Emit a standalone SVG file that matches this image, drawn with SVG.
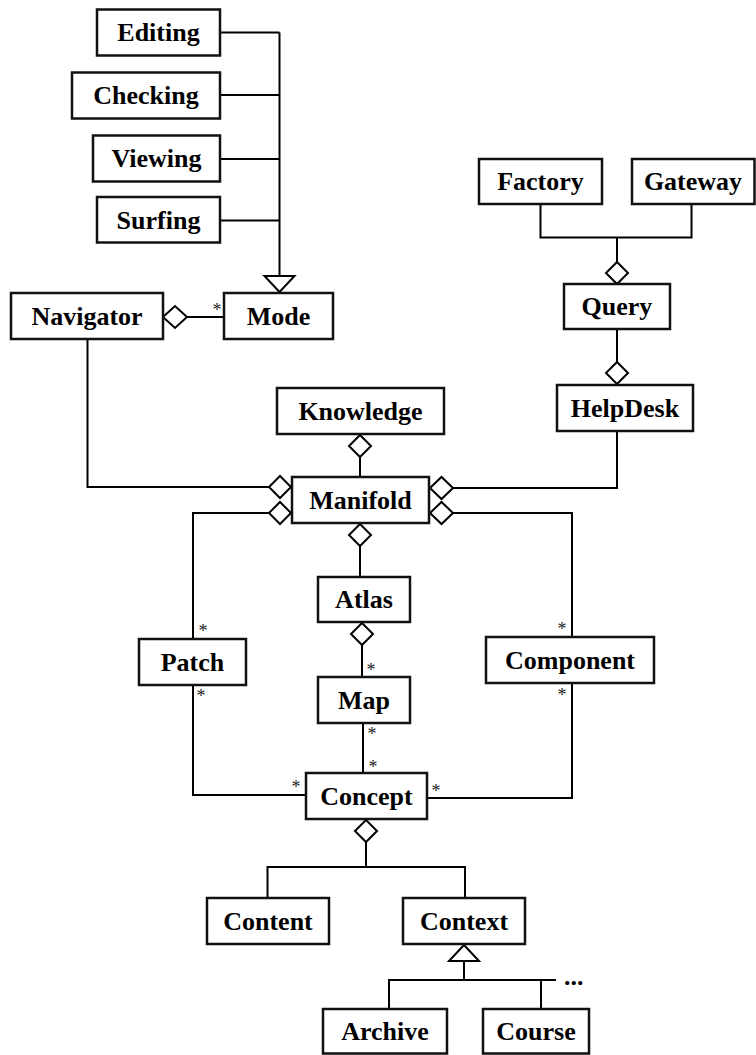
<svg xmlns="http://www.w3.org/2000/svg" width="756" height="1055" viewBox="0 0 756 1055">
  <style>
    .box { fill: #fff; stroke: #111; stroke-width: 2.5; }
    .lbl { font-family: "Liberation Serif", "Times New Roman", serif; font-weight: bold; font-size: 26px; fill: #000; text-anchor: middle; }
    .ln { fill: none; stroke: #000; stroke-width: 2; }
    .dia { fill: #fff; stroke: #000; stroke-width: 2; }
    .tri { fill: #fff; stroke: #000; stroke-width: 2; }
    .mult { font-family: "Liberation Serif", "Times New Roman", serif; font-size: 18px; fill: #222; text-anchor: middle; }
    .dots { font-family: "Liberation Serif", "Times New Roman", serif; font-weight: bold; font-size: 26px; fill: #000; }
  </style>
  <rect width="756" height="1055" fill="#fff"/>

  <!-- connectors -->
  <g id="connectors">
    <!-- modes generalise to Mode -->
    <path class="ln" d="M220 32.5H279.5 M220 95H279.5 M220 159H279.5 M220 220.5H279.5 M279.5 32.5V276"/>
    <polygon class="tri" points="264.5,276 294.5,276 279.5,292"/>
    <!-- Navigator aggregates Mode -->
    <path class="ln" d="M187 317H224"/>
    <polygon class="dia" points="163,317 175,306 187,317 175,328"/>
    <text class="mult" x="217" y="316">*</text>
    <!-- Factory / Gateway into Query -->
    <path class="ln" d="M540.5 204V237.5H691.5V204 M617 237.5V262"/>
    <polygon class="dia" points="617,262 628,273 617,284 606,273"/>
    <!-- Query into HelpDesk -->
    <path class="ln" d="M617 329V362"/>
    <polygon class="dia" points="617,362 628,373 617,384 606,373"/>
    <!-- HelpDesk to Manifold -->
    <path class="ln" d="M617 431V488H453"/>
    <polygon class="dia" points="430,488 441.5,477 453,488 441.5,499"/>
    <!-- Knowledge to Manifold -->
    <path class="ln" d="M360 457V477"/>
    <polygon class="dia" points="360,435 371,446 360,457 349,446"/>
    <!-- Navigator to Manifold -->
    <path class="ln" d="M87.5 339V487H269"/>
    <polygon class="dia" points="269,487 280,476 291,487 280,498"/>
    <!-- Manifold to Patch -->
    <path class="ln" d="M269 513H193V639"/>
    <polygon class="dia" points="269,513 280,502 291,513 280,524"/>
    <!-- Manifold to Component -->
    <path class="ln" d="M453 513H572V637"/>
    <polygon class="dia" points="430,513 441.5,502 453,513 441.5,524"/>
    <!-- Manifold to Atlas -->
    <path class="ln" d="M360 546V577"/>
    <polygon class="dia" points="360,524 371,535 360,546 349,535"/>
    <!-- Atlas to Map -->
    <path class="ln" d="M362 645V677"/>
    <polygon class="dia" points="362,623 373,634 362,645 351,634"/>
    <!-- Map to Concept -->
    <path class="ln" d="M363 723V773"/>
    <!-- Patch to Concept -->
    <path class="ln" d="M193 685V795H306"/>
    <!-- Component to Concept -->
    <path class="ln" d="M572 683V798H427"/>
    <!-- multiplicities -->
    <text class="mult" x="203" y="637">*</text>
    <text class="mult" x="201" y="702">*</text>
    <text class="mult" x="562" y="635">*</text>
    <text class="mult" x="562" y="701">*</text>
    <text class="mult" x="371" y="676">*</text>
    <text class="mult" x="372" y="740">*</text>
    <text class="mult" x="373" y="773">*</text>
    <text class="mult" x="296" y="793">*</text>
    <text class="mult" x="436" y="797">*</text>
    <!-- Concept into Content / Context -->
    <polygon class="dia" points="366,820 377,831 366,842 355,831"/>
    <path class="ln" d="M366 842V867 M267.5 898V867H465V898"/>
    <!-- Context specialisations -->
    <polygon class="tri" points="464,945 449,961 479,961"/>
    <path class="ln" d="M464 961V980 M389 1009V980H556 M541 980V1009"/>
    <text class="dots" x="564" y="985">...</text>
  </g>

  <!-- nodes -->
  <g id="editing"><rect class="box" x="97" y="9.5" width="123" height="46"/><text class="lbl" x="158.5" y="41">Editing</text></g>
  <g id="checking"><rect class="box" x="72" y="72.5" width="148" height="46"/><text class="lbl" x="146" y="104">Checking</text></g>
  <g id="viewing"><rect class="box" x="93" y="135.5" width="127" height="46"/><text class="lbl" x="156.5" y="167">Viewing</text></g>
  <g id="surfing"><rect class="box" x="97" y="197" width="123" height="45.5"/><text class="lbl" x="158.5" y="228.5">Surfing</text></g>
  <g id="navigator"><rect class="box" x="11" y="293" width="152" height="46"/><text class="lbl" x="87" y="324.5">Navigator</text></g>
  <g id="mode"><rect class="box" x="224" y="293" width="109" height="46"/><text class="lbl" x="278.5" y="324.5">Mode</text></g>
  <g id="factory"><rect class="box" x="479" y="159" width="123" height="45"/><text class="lbl" x="540.5" y="190">Factory</text></g>
  <g id="gateway"><rect class="box" x="632" y="159" width="122.5" height="45"/><text class="lbl" x="693" y="190">Gateway</text></g>
  <g id="query"><rect class="box" x="564" y="284" width="106" height="45"/><text class="lbl" x="617" y="315">Query</text></g>
  <g id="helpdesk"><rect class="box" x="557" y="385" width="136" height="46"/><text class="lbl" x="625" y="416.5">HelpDesk</text></g>
  <g id="knowledge"><rect class="box" x="277" y="388" width="167" height="46"/><text class="lbl" x="360.5" y="419.5">Knowledge</text></g>
  <g id="manifold"><rect class="box" x="292" y="477" width="137" height="46"/><text class="lbl" x="360.5" y="508.5">Manifold</text></g>
  <g id="atlas"><rect class="box" x="318" y="577" width="92" height="45"/><text class="lbl" x="364" y="608">Atlas</text></g>
  <g id="patch"><rect class="box" x="139" y="639" width="107" height="46"/><text class="lbl" x="192.5" y="670.5">Patch</text></g>
  <g id="component"><rect class="box" x="486" y="637" width="168" height="46"/><text class="lbl" x="570" y="668.5">Component</text></g>
  <g id="map"><rect class="box" x="318" y="677" width="92" height="46"/><text class="lbl" x="364" y="708.5">Map</text></g>
  <g id="concept"><rect class="box" x="306" y="773" width="121" height="46"/><text class="lbl" x="366.5" y="804.5">Concept</text></g>
  <g id="content"><rect class="box" x="207" y="898" width="122" height="46"/><text class="lbl" x="268" y="929.5">Content</text></g>
  <g id="context"><rect class="box" x="403" y="898" width="122" height="46"/><text class="lbl" x="464" y="929.5">Context</text></g>
  <g id="archive"><rect class="box" x="323" y="1009" width="124" height="44.5"/><text class="lbl" x="385" y="1040">Archive</text></g>
  <g id="course"><rect class="box" x="483" y="1009" width="106" height="44.5"/><text class="lbl" x="536" y="1040">Course</text></g>
</svg>
